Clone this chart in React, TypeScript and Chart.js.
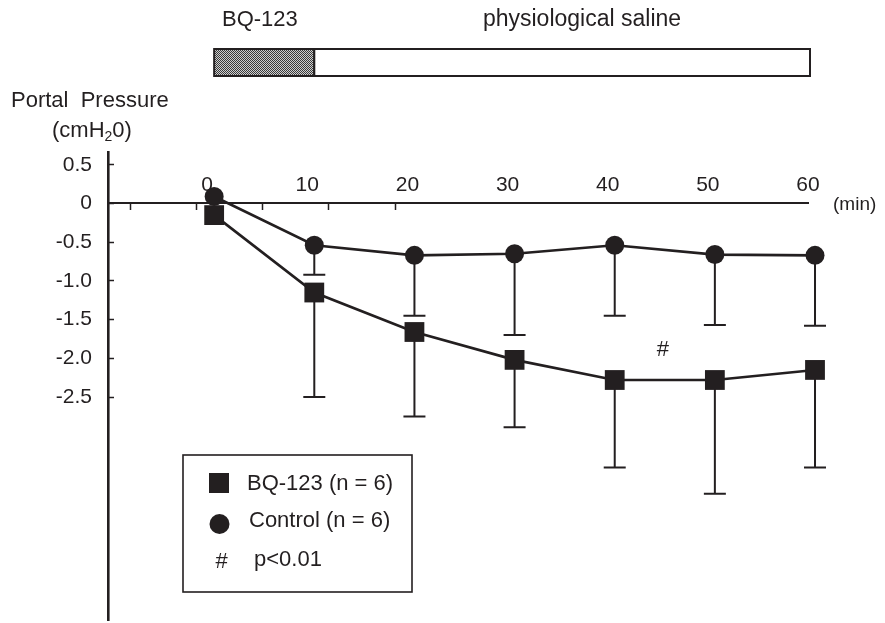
import React, { useEffect, useRef } from 'react';
import { Chart, registerables } from 'chart.js';

Chart.register(...registerables);

// ---- data ----
const timePoints = [0, 10, 20, 30, 40, 50, 60];
const bqMean = [-0.15, -1.15, -1.66, -2.02, -2.28, -2.28, -2.15];
const bqSD = [0, 1.35, 1.09, 0.87, 1.13, 1.47, 1.26];
const controlMean = [0.09, -0.54, -0.67, -0.65, -0.54, -0.66, -0.67];
const controlSD = [0, 0.38, 0.78, 1.05, 0.91, 0.91, 0.91];

const xLabelTicks = [0, 10, 20, 30, 40, 50, 60];
const xMinorTicks = [-8.4, -1.75, 4.85, 11.45, 18.1];
const yTickValues = [0.5, 0, -0.5, -1.0, -1.5, -2.0, -2.5];
const yTickLabels = ['0.5', '0', '-0.5', '-1.0', '-1.5', '-2.0', '-2.5'];

const phaseLabels = ['BQ-123', 'physiological saline'];
const phaseStarts = [0, 10];
const phaseEnds = [10, 59.5];

const sigX = [44.8];
const sigY = [-1.89];
const sigText = '#';
const sigLegend = 'p<0.01';

const bqLabel = 'BQ-123 (n = 6)';
const controlLabel = 'Control (n = 6)';

const FONT = "'Liberation Sans', Arial, Helvetica, sans-serif";
const INK = '#231f20';

export default function App() {
  const ref = useRef<HTMLCanvasElement>(null);

  useEffect(() => {
    const canvas = ref.current;
    if (!canvas) return;

    const pc = document.createElement('canvas');
    pc.width = 2;
    pc.height = 2;
    const pctx = pc.getContext('2d')!;
    pctx.fillStyle = '#cfcfcf';
    pctx.fillRect(0, 0, 2, 2);
    pctx.fillStyle = '#3a3a3a';
    pctx.fillRect(0, 0, 1, 1);
    pctx.fillRect(1, 1, 1, 1);

    const sdByDataset = [controlSD, bqSD];

    const decor = {
      id: 'decor',
      beforeDatasetsDraw(chart: any) {
        const ctx = chart.ctx;
        const xs = chart.scales.x;
        const ys = chart.scales.y;
        ctx.save();
        ctx.strokeStyle = INK;
        ctx.lineWidth = 2;
        chart.data.datasets.forEach((ds: any, di: number) => {
          const sd = sdByDataset[di];
          ds.data.forEach((p: any, i: number) => {
            if (!sd[i]) return;
            const px = xs.getPixelForValue(p.x);
            const y1 = ys.getPixelForValue(p.y);
            const y2 = ys.getPixelForValue(p.y - sd[i]);
            ctx.beginPath();
            ctx.moveTo(px, y1);
            ctx.lineTo(px, y2);
            ctx.moveTo(px - 11, y2);
            ctx.lineTo(px + 11, y2);
            ctx.stroke();
          });
        });
        ctx.restore();
      },
      afterDraw(chart: any) {
        const ctx = chart.ctx;
        const xs = chart.scales.x;
        const ys = chart.scales.y;
        ctx.save();
        ctx.fillStyle = INK;
        ctx.strokeStyle = INK;
        ctx.textBaseline = 'middle';
        ctx.textAlign = 'left';

        // phase bar
        const barTop = 49;
        const barH = 27;
        phaseLabels.forEach((lab, i) => {
          const x1 = xs.getPixelForValue(phaseStarts[i]);
          const x2 = xs.getPixelForValue(phaseEnds[i]);
          if (i === 0) {
            ctx.fillStyle = ctx.createPattern(pc, 'repeat');
          } else {
            ctx.fillStyle = '#ffffff';
          }
          ctx.fillRect(x1, barTop, x2 - x1, barH);
          ctx.lineWidth = 2;
          ctx.strokeRect(x1, barTop, x2 - x1, barH);
        });
        ctx.fillStyle = INK;
        ctx.font = `22px ${FONT}`;
        ctx.fillText(phaseLabels[0], 222, 20);
        ctx.textAlign = 'center';
        ctx.font = `23px ${FONT}`;
        ctx.fillText(phaseLabels[1], 582, 20);
        ctx.textAlign = 'left';

        // y title
        ctx.font = `22px ${FONT}`;
        ctx.fillText('Portal  Pressure', 11, 101);
        let tx = 52;
        const ty = 131;
        ctx.fillText('(cmH', tx, ty);
        tx += ctx.measureText('(cmH').width;
        ctx.font = `14px ${FONT}`;
        ctx.fillText('2', tx, ty + 6);
        tx += ctx.measureText('2').width;
        ctx.font = `22px ${FONT}`;
        ctx.fillText('0)', tx, ty);

        // x unit
        ctx.font = `19px ${FONT}`;
        ctx.fillText('(min)', xs.right + 25, ys.getPixelForValue(0) + 1);

        // significance marks
        ctx.textAlign = 'center';
        ctx.font = `22px ${FONT}`;
        sigX.forEach((v, i) => {
          ctx.fillText(sigText, xs.getPixelForValue(v), ys.getPixelForValue(sigY[i]));
        });

        // legend box
        ctx.lineWidth = 1.6;
        ctx.strokeRect(183, 455, 229, 137);
        ctx.fillRect(209, 473, 20, 20);
        ctx.beginPath();
        ctx.arc(219.5, 524, 10, 0, Math.PI * 2);
        ctx.fill();
        ctx.fillText(sigText, 221.5, 562);
        ctx.textAlign = 'left';
        ctx.fillText(bqLabel, 247, 484);
        ctx.fillText(controlLabel, 249, 521);
        ctx.fillText(sigLegend, 254, 560);
        ctx.restore();
      },
    };

    const allXTicks = [...xMinorTicks, ...xLabelTicks].sort((a, b) => a - b);
    const isMinor = (v: number) => xMinorTicks.some((m) => Math.abs(m - v) < 1e-6);

    const chart = new Chart(canvas, {
      type: 'line',
      data: {
        datasets: [
          {
            label: controlLabel,
            data: timePoints.map((t, i) => ({ x: t, y: controlMean[i] })),
            borderColor: INK,
            backgroundColor: INK,
            borderWidth: 2.6,
            pointStyle: 'circle',
            pointRadius: 9.5,
            pointBorderWidth: 0,
            pointBackgroundColor: INK,
            tension: 0,
            clip: false,
          } as any,
          {
            label: bqLabel,
            data: timePoints.map((t, i) => ({ x: t, y: bqMean[i] })),
            borderColor: INK,
            backgroundColor: INK,
            borderWidth: 2.6,
            pointStyle: 'rect',
            pointRadius: 14,
            pointBorderWidth: 0,
            pointBackgroundColor: INK,
            tension: 0,
            clip: false,
          } as any,
        ],
      },
      options: {
        responsive: false,
        animation: false,
        events: [],
        layout: { autoPadding: false, padding: { left: 0, right: 77, top: 152, bottom: 3 } },
        plugins: {
          legend: { display: false },
          tooltip: { enabled: false },
          title: { display: false },
        },
        scales: {
          x: {
            type: 'linear',
            position: { y: 0 } as any,
            min: -10.6,
            max: 59.3,
            afterBuildTicks: (scale: any) => {
              scale.ticks = allXTicks.map((v) => ({ value: v }));
            },
            afterFit: (scale: any) => {
              scale.height = 0;
              scale.paddingLeft = 0;
              scale.paddingRight = 0;
            },
            ticks: {
              autoSkip: false,
              maxRotation: 0,
              padding: -37,
              labelOffset: -7,
              color: INK,
              font: { family: FONT, size: 21 },
              callback: (value: any) => (isMinor(Number(value)) ? '' : String(value)),
            },
            grid: {
              display: true,
              drawOnChartArea: false,
              drawTicks: true,
              tickLength: 6,
              tickWidth: 1.5,
              tickColor: (ctx: any) => (ctx.tick && isMinor(ctx.tick.value) ? INK : 'rgba(0,0,0,0)'),
            },
            border: { display: true, color: INK, width: 2 },
          },
          y: {
            type: 'linear',
            position: 'left',
            min: -5.38,
            max: 0.665,
            afterBuildTicks: (scale: any) => {
              scale.ticks = yTickValues.map((v) => ({ value: v }));
            },
            afterFit: (scale: any) => {
              scale.width = 108;
              scale.paddingTop = 0;
              scale.paddingBottom = 0;
            },
            ticks: {
              autoSkip: false,
              padding: 22,
              color: INK,
              font: { family: FONT, size: 21 },
              callback: (value: any, index: number) => yTickLabels[index],
            },
            grid: {
              display: true,
              drawOnChartArea: false,
              drawTicks: true,
              tickLength: -6,
              tickWidth: 1.5,
              tickColor: INK,
            },
            border: { display: true, color: INK, width: 2.6 },
          },
        },
      },
      plugins: [decor],
    });

    return () => chart.destroy();
  }, []);

  return (
    <div style={{ position: 'fixed', left: 0, top: 0, width: 885, height: 623, background: '#ffffff' }}>
      <canvas ref={ref} width={885} height={623} style={{ display: 'block' }} />
    </div>
  );
}
